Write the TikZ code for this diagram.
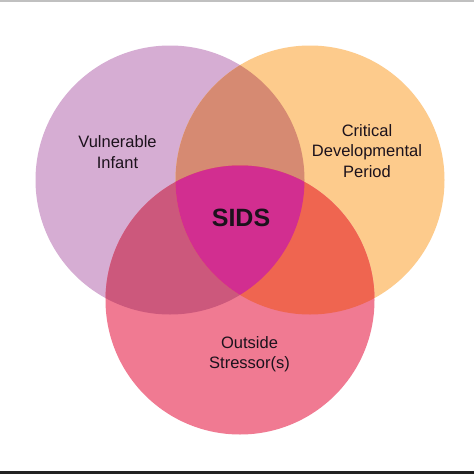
\documentclass[tikz,border=0pt]{standalone}
\usepackage{fontspec}
\setmainfont{Liberation Sans}
\usepackage{xcolor}
\usetikzlibrary{positioning}

\definecolor{infant}{HTML}{D6ADD3}
\definecolor{period}{HTML}{FDCB8C}
\definecolor{stress}{HTML}{F07A92}
\definecolor{infper}{HTML}{D68A72}
\definecolor{infstr}{HTML}{CC587C}
\definecolor{perstr}{HTML}{EF6550}
\definecolor{sidsc}{HTML}{D22E90}
\definecolor{txt}{HTML}{1C121C}
\definecolor{topline}{HTML}{C0C0C0}
\definecolor{botline}{HTML}{222222}

\tikzset{
    lbl/.style={align=center, text=txt, font=\fontsize{16.5}{20.5}\selectfont},
    biglbl/.style={text=txt, font=\fontsize{25}{30}\selectfont\bfseries}
}

\begin{document}
\begin{tikzpicture}[x=1pt,y=-1pt]
    \useasboundingbox (0,0) rectangle (474,474);
    \fill[white] (0,0) rectangle (474,474);
    \fill[topline] (0,0) rectangle (474,2);
    \fill[botline] (0,471) rectangle (474,474);

    \coordinate (vi) at (170,180);
    \coordinate (cd) at (310,180);
    \coordinate (os) at (240,300);

    % single circles
    \fill[infant] (vi) circle (134.5pt);
    \fill[period] (cd) circle (134.5pt);
    \fill[stress] (os) circle (134.5pt);

    % two at a time
    \begin{scope}
        \clip (vi) circle (134.5pt);
        \fill[infper] (cd) circle (134.5pt);
    \end{scope}
    \begin{scope}
        \clip (vi) circle (134.5pt);
        \fill[infstr] (os) circle (134.5pt);
    \end{scope}
    \begin{scope}
        \clip (cd) circle (134.5pt);
        \fill[perstr] (os) circle (134.5pt);
    \end{scope}

    % all three
    \begin{scope}
        \clip (vi) circle (134.5pt);
        \clip (cd) circle (134.5pt);
        \fill[sidsc] (os) circle (134.5pt);
    \end{scope}

    \node[lbl] (infantlbl) at (117.5,152) {Vulnerable\\Infant};
    \node[lbl] (periodlbl) at (367,151) {Critical\\Developmental\\Period};
    \node[lbl] (stresslbl) at (249.5,354) {Outside\\Stressor(s)};
    \node[biglbl] (sidslbl) at (241,218) {SIDS};
\end{tikzpicture}
\end{document}
